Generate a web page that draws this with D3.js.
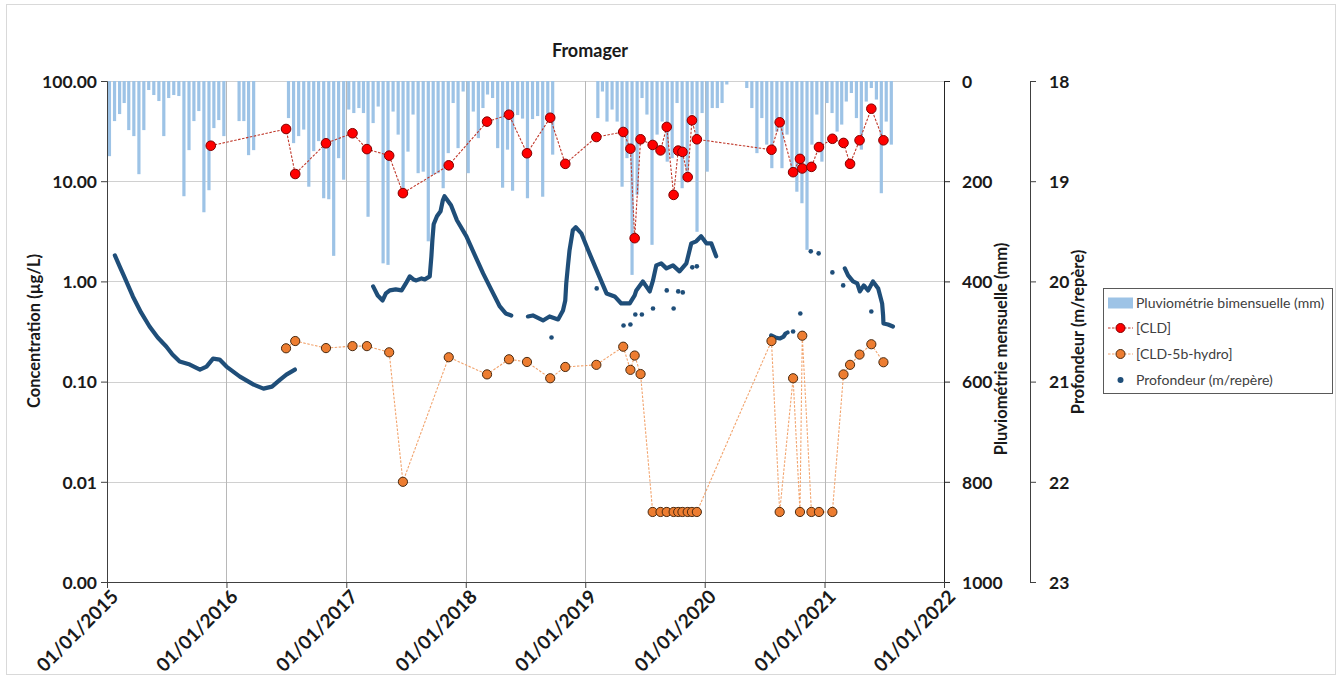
<!DOCTYPE html>
<html><head><meta charset="utf-8">
<script src="https://cdn.jsdelivr.net/npm/d3@7/dist/d3.min.js"></script>
<style>
html,body{margin:0;padding:0;background:#fff;}
svg text{font-family:Lato,"Open Sans",sans-serif;}
</style></head>
<body><svg id="chart" width="1343" height="679"></svg>
<script>
// ---------------- DATA ----------------
const title = "Fromager";
const xTickDates = ["2015-01-01","2016-01-01","2017-01-01","2018-01-01","2019-01-01","2020-01-01","2021-01-01","2022-01-01"];
const concTicks = [0.001, 0.01, 0.1, 1, 10, 100];
const rainTicks = [0, 200, 400, 600, 800, 1000];
const depthTicks = [18, 19, 20, 21, 22, 23];

// Pluviométrie bimensuelle (mm), one value per half-month starting Jan 2015 (null = no data)
const rainStart = "2015-01-01";
const rain = [
 150, 80, 66, 44, 98, 110, 186, 98, 18, 28, 40, 110, 34, 28, 30, 230, 138, 80, 60, 262, 218, 94, 78, 110,
 null, null, 80, 80, 148, 138, null, null, null, null, null, null,
 74, 124, 110, 97, 211, 140, 120, 234, 236, 349, 154, 197, 57, 64, 54, 64, 271, 84, 51, 364, 367, 61, 107, 227,
 141, 67, 184, 181, 320, 187, 184, 214, 144, 44, 134, 21, 184, 61, 114, 54, 27, 34, 134, 213, 137, 219, 68,
 75, 234, 76, 70, 231, 72, 147, null, null, null, null, null, null, null, null,
 74, 21, 81, 57, 81, 211, 154, 387, 227, 34, 67, 327, 107, 81, 161, 154, 44, 214, 181, 67, 301, 64, 181, 54, 54, 44, 7,
 null, null, null,
 14, 54, 144, 74, 127, 174, 101, 174, 107, 187, 221, 244, 337, 127, 67, 161, 44, 64, 101, 87, 41, 24, 74, 137, 41, 14, 37, 224, 81, 127
];

// [CLD] (µg/L)
const cldDates = ["2015-11-14","2016-07-01","2016-07-29","2016-10-31","2017-01-20","2017-03-05","2017-05-12","2017-06-23","2017-11-10","2018-03-07","2018-05-13","2018-07-07","2018-09-16","2018-11-01","2019-02-04","2019-04-27","2019-05-19","2019-06-01","2019-06-19","2019-07-26","2019-08-19","2019-09-07","2019-09-28","2019-10-12","2019-10-25","2019-11-10","2019-11-23","2019-12-08","2020-07-23","2020-08-17","2020-09-27","2020-10-18","2020-10-25","2020-11-22","2020-12-15","2021-01-25","2021-02-28","2021-03-20","2021-04-18","2021-05-24","2021-06-30"];
const cldValues = [22.6,33.2,11.8,23.9,30.1,20.9,18.0,7.6,14.4,39.3,46.1,19.0,43.0,14.9,27.6,31.0,21.1,2.7,26.2,23.0,20.3,34.8,7.3,20.2,19.6,11.0,40.5,26.2,20.6,38.7,12.3,16.7,13.4,13.9,21.9,26.5,24.1,14.9,25.6,52.9,25.6];

// [CLD-5b-hydro] (µg/L)
const hydDates = ["2016-07-01","2016-07-29","2016-10-31","2017-01-20","2017-03-05","2017-05-12","2017-06-23","2017-11-10","2018-03-07","2018-05-13","2018-07-07","2018-09-16","2018-11-01","2019-02-04","2019-04-27","2019-05-19","2019-06-01","2019-06-19","2019-07-26","2019-08-19","2019-09-07","2019-09-28","2019-10-12","2019-10-25","2019-11-10","2019-11-23","2019-12-08","2020-07-23","2020-08-17","2020-09-27","2020-10-18","2020-10-25","2020-11-22","2020-12-15","2021-01-25","2021-02-28","2021-03-20","2021-04-18","2021-05-24","2021-06-30"];
const hydValues = [0.215,0.254,0.216,0.226,0.226,0.196,0.01,0.175,0.118,0.167,0.157,0.108,0.140,0.147,0.223,0.131,0.182,0.119,0.005,0.005,0.005,0.005,0.005,0.005,0.005,0.005,0.005,0.254,0.005,0.108,0.005,0.287,0.005,0.005,0.005,0.118,0.147,0.186,0.236,0.156];

// Profondeur (m/repère) - continuous records (null = gap)
const depthDates = [
 "2015-01-25","2015-02-10","2015-02-21","2015-03-21","2015-04-15","2015-05-11","2015-06-05","2015-07-01","2015-07-20","2015-08-11","2015-09-11","2015-10-12","2015-11-01","2015-11-21","2015-12-11","2016-01-01","2016-02-11","2016-03-24","2016-04-23","2016-05-19","2016-06-13","2016-07-02","2016-07-28",
 null,
 "2017-03-24","2017-04-07","2017-04-22","2017-05-02","2017-05-14","2017-06-01","2017-06-19","2017-07-02","2017-07-14","2017-07-25","2017-08-03","2017-08-19","2017-08-29","2017-09-13","2017-09-18","2017-09-21","2017-09-25","2017-10-05","2017-10-16","2017-10-23","2017-10-28","2017-11-17","2017-12-05","2018-01-03","2018-01-29","2018-02-23","2018-03-21","2018-04-15","2018-05-03","2018-05-20",
 null,
 "2018-07-10","2018-07-25","2018-08-25","2018-09-14","2018-10-10","2018-10-25","2018-11-01","2018-11-04","2018-11-09","2018-11-14","2018-11-24","2018-12-03","2018-12-20","2019-01-10","2019-02-05","2019-03-07","2019-04-01","2019-04-21","2019-05-17","2019-06-01","2019-06-06","2019-06-26","2019-07-17","2019-07-27","2019-08-06","2019-08-21","2019-09-06","2019-09-26","2019-10-16","2019-11-06","2019-11-21","2019-12-06","2019-12-21","2020-01-06","2020-01-21","2020-02-05",
 null,
 "2020-07-22","2020-08-04","2020-08-17","2020-08-29","2020-09-04","2020-09-10",
 null,
 "2021-03-04","2021-03-14","2021-03-29","2021-04-11","2021-04-19","2021-05-01","2021-05-14","2021-05-29","2021-06-14","2021-06-26","2021-06-29","2021-06-30","2021-07-14","2021-07-29"
];
const depthValues = [
 19.74,19.86,19.94,20.15,20.31,20.45,20.56,20.65,20.73,20.80,20.83,20.88,20.85,20.77,20.78,20.85,20.95,21.03,21.07,21.05,20.98,20.93,20.88,
 null,
 20.05,20.14,20.19,20.12,20.09,20.08,20.09,20.02,19.95,19.98,19.99,19.97,19.98,19.95,19.75,19.59,19.43,19.35,19.30,19.19,19.15,19.24,19.39,19.55,19.74,19.92,20.09,20.25,20.32,20.34,
 null,
 20.35,20.34,20.39,20.35,20.38,20.29,20.19,20.02,19.85,19.69,19.49,19.46,19.52,19.69,19.89,20.12,20.15,20.22,20.22,20.14,20.09,20.00,20.10,19.99,19.84,19.82,19.87,19.84,19.90,19.82,19.62,19.60,19.55,19.62,19.62,19.75,
 null,
 20.54,20.56,20.57,20.55,20.52,20.51,
 null,
 19.87,19.94,20.00,20.02,20.10,20.04,20.09,20.00,20.07,20.22,20.34,20.42,20.43,20.45
];
// Profondeur - isolated readings
const depthDotDates = ["2018-09-20","2019-02-05","2019-04-28","2019-05-19","2019-06-03","2019-06-23","2019-07-27","2019-09-07","2019-09-28","2019-10-12","2019-10-26","2019-11-24","2019-12-08","2020-09-27","2020-10-19","2020-11-20","2020-12-14","2021-01-25","2021-02-27","2021-05-24"];
const depthDotValues = [20.56,20.07,20.44,20.43,20.33,20.33,20.27,20.09,20.27,20.10,20.11,19.86,19.85,20.50,20.32,19.70,19.72,19.91,20.04,20.30];

const legendLabels = ["Pluviométrie bimensuelle (mm)","[CLD]","[CLD-5b-hydro]","Profondeur (m/repère)"];

// ---------------- CHART ----------------
const parse = d3.timeParse("%Y-%m-%d");
const svg = d3.select("#chart");
const L = 107, R = 944, T = 81, B = 582, R2 = 1030;
const C = {bar:"#9dc3e6", red:"#ff0000", redDark:"#800000", redLine:"#c0392b", orange:"#ed7d31", orangeDark:"#4a2a10", orangeLine:"#f2a46e", blue:"#1f4e79", text:"#1a1a1a"};

const x = d3.scaleTime().domain([parse("2015-01-01"), parse("2022-01-01")]).range([L, R]);
const yC = d3.scaleLog().domain([0.001, 100]).range([B, T]);
const yR = d3.scaleLinear().domain([0, 1000]).range([T, B]);
const yD = d3.scaleLinear().domain([18, 23]).range([T, B]);

svg.append("rect").attr("x",6.5).attr("y",4.5).attr("width",1329).attr("height",670)
  .attr("fill","#fff").attr("stroke","#d9d9d9");

// grid
const g = svg.append("g");
g.selectAll(".hg").data(concTicks.slice(1)).join("line")
  .attr("x1",L).attr("x2",R).attr("y1",d=>Math.round(yC(d))+0.5).attr("y2",d=>Math.round(yC(d))+0.5)
  .attr("stroke","#d0d0d0");
g.selectAll(".vg").data(xTickDates.slice(1,-1)).join("line")
  .attr("x1",d=>Math.round(x(parse(d)))+0.5).attr("x2",d=>Math.round(x(parse(d)))+0.5)
  .attr("y1",T).attr("y2",B).attr("stroke","#b8b8b8");

// rainfall bars
const start = parse(rainStart);
const rainData = rain.map((v,k)=>{
  const s = new Date(start.getFullYear(), start.getMonth()+Math.floor(k/2), k%2 ? 16 : 1);
  const e = new Date(start.getFullYear(), start.getMonth()+Math.floor((k+1)/2), (k+1)%2 ? 16 : 1);
  return {s, e, v};
}).filter(d=>d.v!==null);
svg.append("g").selectAll("rect").data(rainData).join("rect")
  .attr("x",d=>(x(d.s)+x(d.e))/2-1.6).attr("width",3.2)
  .attr("y",yR(0)).attr("height",d=>yR(d.v)-yR(0))
  .attr("fill",C.bar);

// depth
const depth = depthDates.map((d,i)=>({d: d?parse(d):null, v: depthValues[i]}));
const dLine = d3.line().defined(d=>d.d!==null && d.v!==null).x(d=>x(d.d)).y(d=>yD(d.v)).curve(d3.curveLinear);
svg.append("path").datum(depth).attr("d",dLine).attr("fill","none")
  .attr("stroke",C.blue).attr("stroke-width",4.2).attr("stroke-linejoin","round").attr("stroke-linecap","round");
svg.append("g").selectAll("circle").data(depthDotDates.map((d,i)=>({d:parse(d),v:depthDotValues[i]}))).join("circle")
  .attr("cx",d=>x(d.d)).attr("cy",d=>yD(d.v)).attr("r",2.3).attr("fill",C.blue);

// hydro series
const hyd = hydDates.map((d,i)=>({d:parse(d),v:hydValues[i]}));
const cLine = d3.line().x(d=>x(d.d)).y(d=>yC(d.v));
svg.append("path").datum(hyd).attr("d",cLine).attr("fill","none")
  .attr("stroke",C.orangeLine).attr("stroke-width",1.1).attr("stroke-dasharray","2.5,1.5");
svg.append("g").selectAll("circle").data(hyd).join("circle")
  .attr("cx",d=>x(d.d)).attr("cy",d=>yC(d.v)).attr("r",4.6)
  .attr("fill",C.orange).attr("stroke",C.orangeDark).attr("stroke-width",1);

// CLD series
const cld = cldDates.map((d,i)=>({d:parse(d),v:cldValues[i]}));
svg.append("path").datum(cld).attr("d",cLine).attr("fill","none")
  .attr("stroke",C.redLine).attr("stroke-width",1.1).attr("stroke-dasharray","2.5,1.5");
svg.append("g").selectAll("circle").data(cld).join("circle")
  .attr("cx",d=>x(d.d)).attr("cy",d=>yC(d.v)).attr("r",4.8)
  .attr("fill",C.red).attr("stroke",C.redDark).attr("stroke-width",1);

// axes
const tickFont = 17.5;
function styleAxis(sel, color){
  sel.select(".domain").attr("stroke",color);
  sel.selectAll(".tick line").attr("stroke",color);
  sel.selectAll(".tick text").attr("fill",C.text).attr("font-size",tickFont).attr("font-weight","bold")
     .attr("font-family","Lato, sans-serif");
}
const axL = svg.append("g").attr("transform",`translate(${L},0)`)
  .call(d3.axisLeft(yC).tickValues(concTicks).tickFormat(d3.format(".2f")).tickSizeOuter(0).tickSize(6).tickPadding(4));
styleAxis(axL,"#404040");
axL.selectAll(".tick text").attr("dy","0.36em");

const axR = svg.append("g").attr("transform",`translate(${R},0)`)
  .call(d3.axisRight(yR).tickValues(rainTicks).tickFormat(d3.format("d")).tickSizeOuter(0).tickSize(6).tickPadding(12));
styleAxis(axR,"#262626");
axR.selectAll(".tick text").attr("dy","0.36em");

const axR2 = svg.append("g").attr("transform",`translate(${R2},0)`)
  .call(d3.axisRight(yD).tickValues(depthTicks).tickFormat(d3.format("d")).tickSizeOuter(0).tickSize(6).tickPadding(13));
styleAxis(axR2,"#404040");
axR2.selectAll(".tick text").attr("dy","0.36em");

const axB = svg.append("g").attr("transform",`translate(0,${B})`)
  .call(d3.axisBottom(x).tickValues(xTickDates.map(parse)).tickFormat(d3.timeFormat("%d/%m/%Y")).tickSizeOuter(0).tickSize(6));
styleAxis(axB,"#404040");
axB.selectAll(".tick text").attr("font-size",19).attr("text-anchor","end")
  .attr("transform","translate(4,8) rotate(-45)").attr("dx","0").attr("dy","0.6em").attr("y",0);

// titles
svg.append("text").attr("x",590).attr("y",57).attr("text-anchor","middle")
  .attr("font-size",18).attr("font-weight","bold").attr("fill",C.text).text(title);
svg.append("text").attr("transform","translate(40,331) rotate(-90)").attr("text-anchor","middle")
  .attr("font-size",16.5).attr("font-weight","bold").attr("fill",C.text).text("Concentration (µg/L)");
svg.append("text").attr("transform","translate(1007,349) rotate(-90)").attr("text-anchor","middle")
  .attr("font-size",16.5).attr("font-weight","bold").attr("fill",C.text).text("Pluviométrie mensuelle (mm)");
svg.append("text").attr("transform","translate(1084,332) rotate(-90)").attr("text-anchor","middle")
  .attr("font-size",16.5).attr("font-weight","bold").attr("fill",C.text).text("Profondeur (m/repère)");

// legend
const lg = svg.append("g");
lg.append("rect").attr("x",1103.5).attr("y",288.5).attr("width",229).attr("height",105)
  .attr("fill","#fff").attr("stroke","#595959");
const ly = [303, 328, 354, 380];
lg.append("rect").attr("x",1108).attr("y",ly[0]-5.5).attr("width",25).attr("height",11).attr("fill",C.bar);
lg.append("line").attr("x1",1108).attr("x2",1133).attr("y1",ly[1]).attr("y2",ly[1]).attr("stroke",C.redLine).attr("stroke-dasharray","2.5,1.5");
lg.append("circle").attr("cx",1120.5).attr("cy",ly[1]).attr("r",4.5).attr("fill",C.red).attr("stroke",C.redDark);
lg.append("line").attr("x1",1108).attr("x2",1133).attr("y1",ly[2]).attr("y2",ly[2]).attr("stroke",C.orangeLine).attr("stroke-dasharray","2.5,1.5");
lg.append("circle").attr("cx",1120.5).attr("cy",ly[2]).attr("r",4.5).attr("fill",C.orange).attr("stroke",C.orangeDark);
lg.append("circle").attr("cx",1120.5).attr("cy",ly[3]).attr("r",3).attr("fill",C.blue);
lg.selectAll(".lt").data(legendLabels).join("text")
  .attr("x",1136).attr("y",(d,i)=>ly[i]).attr("dy","0.35em")
  .attr("font-size",14).attr("fill","#404040").text(d=>d);
</script></body></html>
